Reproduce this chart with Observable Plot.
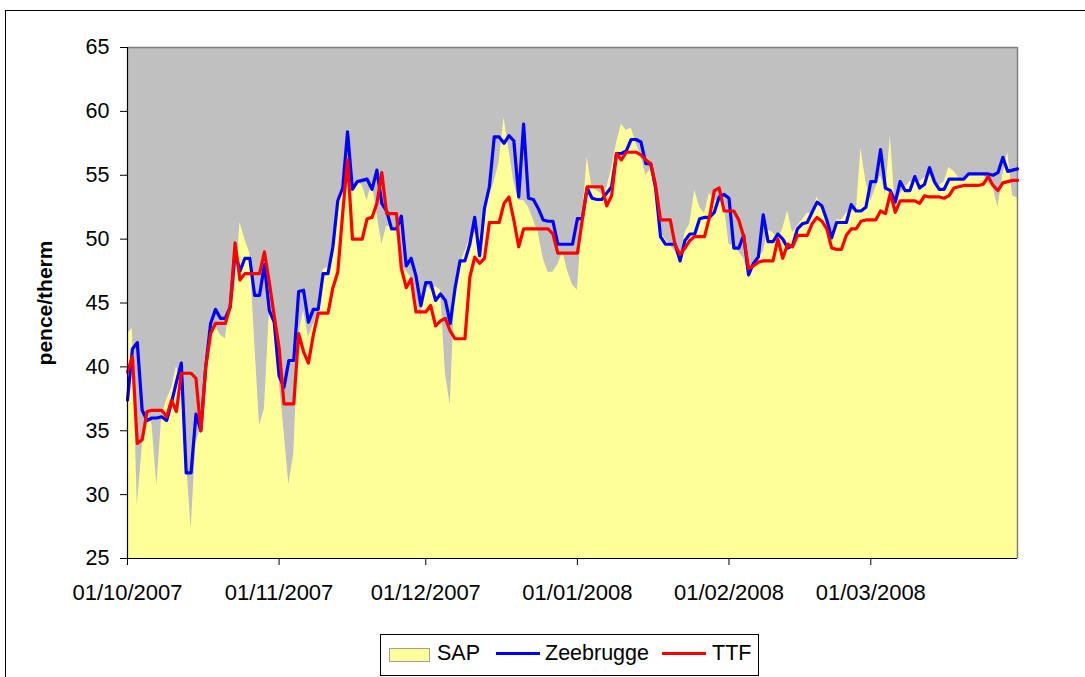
<!DOCTYPE html>
<html>
<head>
<meta charset="utf-8">
<script src="https://cdn.jsdelivr.net/npm/d3@7"></script>
<script src="https://cdn.jsdelivr.net/npm/@observablehq/plot@0.6"></script>
<style>
  html, body { margin: 0; padding: 0; background: #fff; }
  #wrap { position: relative; width: 1085px; height: 677px; overflow: hidden; font-family: "Liberation Sans", Arial, sans-serif; }
  #frame { position: absolute; left: 5px; top: 10px; width: 1200px; height: 800px; border-left: 1px solid #000; border-top: 1px solid #000; box-sizing: border-box; }
  #chart { position: absolute; left: 0; top: 0; }
  #ylabel { position: absolute; left: 45px; top: 303px; transform: translate(-50%, -50%) rotate(-90deg); font-weight: bold; font-size: 21px; white-space: nowrap; color: #000; }
  #legend { position: absolute; left: 380px; top: 634px; width: 379px; height: 42px; border: 1px solid #000; box-sizing: border-box; background: #fff; }
  #legend .t { position: absolute; top: 8px; font-size: 21.5px; line-height: 21px; color: #000; white-space: nowrap; }
  #legend .sw { position: absolute; left: 8px; top: 13px; width: 41px; height: 14px; background: #ffff99; border: 1px solid #a0a0a0; box-sizing: border-box; }
  #legend .ln { position: absolute; top: 17px; width: 44px; height: 3px; }
</style>
</head>
<body>
<div id="wrap">
  <div id="frame"></div>
  <div id="chart"></div>
  <div id="ylabel">pence/therm</div>
  <div id="legend">
    <div class="sw"></div>
    <div class="t" style="left:56px">SAP</div>
    <div class="ln" style="left:115px;background:#0000ff"></div>
    <div class="t" style="left:164px">Zeebrugge</div>
    <div class="ln" style="left:281px;background:#ff0000"></div>
    <div class="t" style="left:331px">TTF</div>
  </div>
</div>
<script>
// Daily series from 01/10/2007 to 31/03/2008 (pence/therm)
const startDate = "2007-10-01";
const endDate = "2008-03-31";

const sap = [
  42.6, 43.0, 29.1, 33.7, 36.6, 35.5, 30.7, 36.1, 37.4, 38.3,
  40.0, 39.0, 33.0, 27.3, 34.0, 35.3, 40.0, 42.5, 43.2, 42.5,
  42.2, 45.0, 46.0, 51.3, 50.0, 48.9, 42.0, 35.4, 36.7, 44.2,
  44.3, 39.0, 35.0, 30.8, 33.2, 42.5, 44.4, 42.3, 43.3, 44.2,
  47.6, 47.8, 49.3, 52.5, 54.5, 55.5, 54.0, 54.5, 54.2, 53.0,
  54.5, 52.0, 49.6, 51.0, 51.0, 50.8, 48.0, 47.5, 47.0, 45.5,
  43.8, 46.5, 46.0, 46.3, 46.0, 39.5, 37.0, 46.5, 48.0, 49.0,
  50.0, 50.5, 50.3, 52.0, 53.5, 54.5, 56.0, 59.5, 57.0, 54.5,
  53.0, 53.0, 52.5, 51.5, 50.5, 48.5, 47.4, 47.4, 48.0, 49.0,
  47.5, 46.4, 46.0, 51.5, 56.4, 54.0, 53.8, 53.5, 54.0, 55.5,
  57.5, 59.0, 58.5, 58.7, 57.5, 56.5, 55.0, 55.5, 53.5, 50.5,
  50.0, 49.5, 49.0, 48.3, 50.5, 51.2, 53.8, 52.5, 52.0, 53.6,
  53.0, 53.0, 52.7, 49.6, 49.5, 49.0, 48.5, 47.2, 48.0, 48.5,
  49.0, 50.7, 50.5, 50.0, 50.8, 52.2, 50.5, 51.0, 51.5, 52.0,
  52.0, 53.3, 52.5, 51.5, 50.5, 51.5, 51.5, 52.0, 52.4, 52.0,
  57.1, 54.5, 53.0, 54.0, 55.0, 53.5, 58.1, 52.5, 53.5, 54.0,
  54.5, 54.5, 54.5, 54.8, 55.0, 54.6, 54.2, 54.5, 55.6, 55.3,
  54.8, 54.8, 55.0, 55.0, 55.2, 55.0, 54.5, 54.0, 52.5, 55.0,
  56.8, 53.4, 53.2
];

const zeebrugge = [
  37.4, 41.4, 41.9, 36.6, 35.8, 36.0, 36.0, 36.1, 35.8, 37.2,
  38.8, 40.3, 31.7, 31.7, 36.3, 35.0, 40.0, 43.4, 44.5, 43.8,
  43.8, 44.7, 49.0, 47.5, 48.5, 48.5, 45.6, 45.6, 48.0, 44.4,
  43.5, 39.3, 38.4, 40.5, 40.5, 45.9, 46.0, 43.5, 44.5, 44.5,
  47.3, 47.3, 49.4, 53.0, 54.0, 58.4, 53.9, 54.5, 54.6, 54.7,
  53.9, 55.4, 52.8, 52.2, 50.8, 50.8, 51.8, 47.9, 48.5, 47.1,
  44.8, 46.6, 46.6, 45.2, 45.7, 45.2, 43.4, 46.2, 48.3, 48.3,
  49.6, 51.7, 48.7, 52.4, 54.1, 58.0, 58.0, 57.5, 58.1, 57.7,
  53.3, 59.0, 53.2, 53.1, 52.4, 51.5, 51.4, 51.4, 49.6, 49.6,
  49.6, 49.6, 51.6, 51.6, 54.0, 53.2, 53.1, 53.1, 53.6, 54.1,
  56.7, 56.7, 56.9, 57.8, 57.8, 57.6, 55.9, 55.9, 54.0, 50.2,
  49.6, 49.6, 49.6, 48.3, 49.9, 50.4, 50.4, 51.6, 51.7, 51.7,
  52.1, 53.3, 53.5, 53.2, 49.3, 49.3, 50.3, 47.2, 48.1, 48.6,
  51.9, 49.8, 49.8, 50.4, 50.0, 49.3, 49.5, 50.8, 51.2, 51.3,
  52.1, 52.9, 52.6, 51.5, 50.1, 51.3, 51.3, 51.3, 52.7, 52.2,
  52.2, 52.5, 54.5, 54.5, 57.0, 54.0, 53.8, 52.9, 54.5, 53.8,
  53.8, 54.9, 54.0, 54.3, 55.6, 54.5, 53.9, 53.9, 54.7, 54.7,
  54.7, 54.7, 55.1, 55.1, 55.1, 55.1, 55.1, 55.0, 55.2, 56.4,
  55.3, 55.4, 55.5
];

const ttf = [
  39.6, 40.8, 34.0, 34.3, 36.5, 36.6, 36.6, 36.6, 36.1, 37.4,
  36.5, 39.5, 39.5, 39.5, 39.1, 35.0, 40.0, 42.6, 43.4, 43.4,
  43.4, 44.7, 49.7, 46.8, 47.3, 47.3, 47.3, 47.3, 49.0, 46.6,
  44.0, 41.5, 37.1, 37.1, 37.1, 42.6, 41.2, 40.3, 42.5, 44.2,
  44.2, 44.2, 46.2, 47.4, 52.0, 56.2, 50.0, 50.0, 50.0, 51.6,
  51.7, 52.8, 55.2, 52.0, 52.0, 52.0, 47.7, 46.2, 46.9, 44.3,
  44.3, 44.3, 44.8, 43.2, 43.6, 43.8, 42.8, 42.2, 42.2, 42.2,
  47.0, 48.6, 48.1, 48.5, 51.3, 51.3, 51.3, 52.8, 53.3, 51.5,
  49.4, 50.8, 50.8, 50.8, 50.8, 50.8, 50.8, 50.4, 48.9, 48.9,
  48.9, 48.9, 48.9, 51.5, 54.1, 54.1, 54.1, 54.1, 52.6, 53.4,
  56.7, 56.2, 56.8, 56.8, 56.8, 56.6, 56.2, 55.9, 54.2, 51.5,
  51.5, 51.5, 49.5, 48.8, 49.3, 49.9, 50.2, 50.2, 50.2, 51.7,
  53.8, 54.0, 52.2, 52.2, 52.2, 51.5, 50.2, 47.7, 47.9, 48.2,
  48.3, 48.3, 48.3, 50.0, 48.5, 49.6, 49.4, 50.3, 50.3, 50.3,
  51.2, 51.7, 51.4, 50.8, 49.3, 49.2, 49.2, 50.3, 50.8, 50.8,
  51.4, 51.5, 51.5, 51.5, 52.2, 52.0, 53.6, 52.1, 53.0, 53.0,
  53.0, 53.0, 52.8, 53.4, 53.3, 53.3, 53.3, 53.2, 53.4, 54.0,
  54.1, 54.2, 54.2, 54.2, 54.2, 54.3, 54.9, 54.2, 53.8, 54.4,
  54.5, 54.6, 54.6
];

const yTicks = [25, 30, 35, 40, 45, 50, 55, 60, 65];
const xTickLabels = ["01/10/2007", "01/11/2007", "01/12/2007", "01/01/2008", "01/02/2008", "01/03/2008"];

const parseDMY = d3.utcParse("%d/%m/%Y");
const xTicks = xTickLabels.map(parseDMY);
const start = new Date(startDate + "T00:00:00Z");
const end = new Date(endDate + "T00:00:00Z");

const rows = sap.map((v, i) => ({
  date: d3.utcDay.offset(start, i),
  sap: v,
  zee: zeebrugge[i],
  ttf: ttf[i]
}));

const fmt = d3.utcFormat("%d/%m/%Y");

const chart = Plot.plot({
  width: 1085,
  height: 677,
  marginLeft: 127,
  marginRight: 68,
  marginTop: 47,
  marginBottom: 119,
  style: { fontFamily: "'Liberation Sans', Arial, sans-serif", fontSize: "21px", background: "transparent", overflow: "visible" },
  x: { type: "utc", domain: [start, end] },
  y: { domain: [25, 65] },
  marks: [
    Plot.frame({ fill: "#c0c0c0" }),
    Plot.areaY(rows, { x: "date", y1: 25, y2: "sap", fill: "#ffff99" }),
    Plot.ruleY([65], { stroke: "#808080", strokeWidth: 1.5 }),
    Plot.ruleX([end], { stroke: "#808080", strokeWidth: 1.5 }),
    Plot.lineY(rows, { x: "date", y: "zee", stroke: "#0000ff", strokeWidth: 3.2 }),
    Plot.lineY(rows, { x: "date", y: "ttf", stroke: "#ff0000", strokeWidth: 3.2 }),
    Plot.ruleX([start], { stroke: "#000", strokeWidth: 1.2 }),
    Plot.ruleY([25], { stroke: "#000", strokeWidth: 1.2 }),
    Plot.axisY({ ticks: yTicks, tickSize: 7, tickPadding: 11, tickFormat: d => String(d), fontSize: 21.5, label: null, stroke: "#000", color: "#000" }),
    Plot.axisX({ ticks: xTicks, tickSize: 7, tickPadding: 19, tickFormat: fmt, fontSize: 22, label: null, stroke: "#000", color: "#000" })
  ]
});
document.getElementById("chart").appendChild(chart);
</script>
</body>
</html>
